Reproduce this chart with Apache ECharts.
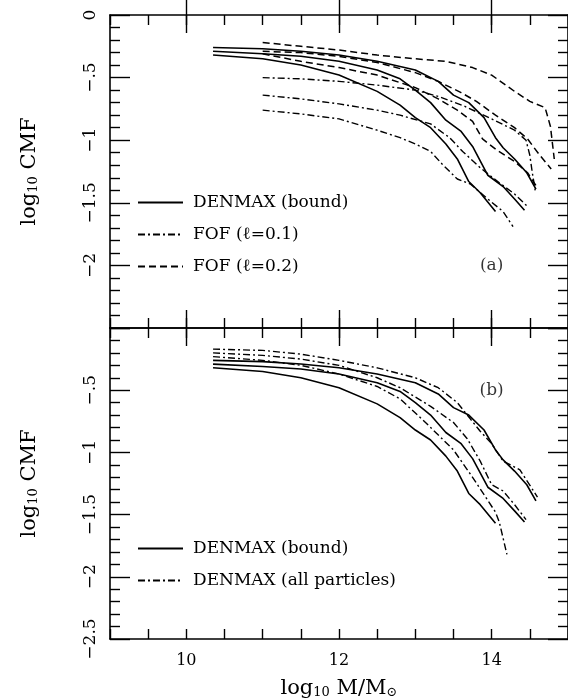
<!DOCTYPE html>
<html>
<head>
<meta charset="utf-8">
<script src="https://cdn.jsdelivr.net/npm/echarts@6/dist/echarts.min.js"></script>
<style>
html,body{margin:0;padding:0;background:#fff;}
#c{width:568px;height:700px;}
</style>
</head>
<body>
<div id="c"></div>
<script>
// ---- data (x = log10 M/Msun, y = log10 CMF) ----
const xMajorTicks = [10, 12, 14];
const yTickValues = [0, -0.5, -1, -1.5, -2, -2.5];

// panel (a)
const denmaxBound1 = [[10.35,-0.26],[11,-0.27],[11.5,-0.29],[12,-0.32],[12.5,-0.37],[13,-0.44],[13.3,-0.53],[13.5,-0.64],[13.7,-0.70],[13.9,-0.82],[14.05,-0.98],[14.15,-1.06],[14.3,-1.15],[14.46,-1.26],[14.58,-1.39]];
const denmaxBound2 = [[10.35,-0.29],[11,-0.31],[11.5,-0.33],[12,-0.37],[12.5,-0.44],[12.8,-0.51],[13.0,-0.60],[13.2,-0.70],[13.4,-0.84],[13.6,-0.93],[13.75,-1.05],[13.95,-1.28],[14.15,-1.37],[14.3,-1.47],[14.43,-1.56]];
const denmaxBound3 = [[10.35,-0.32],[11,-0.35],[11.5,-0.40],[12,-0.48],[12.5,-0.61],[12.8,-0.72],[13.0,-0.82],[13.2,-0.90],[13.4,-1.03],[13.55,-1.15],[13.7,-1.33],[13.85,-1.42],[14.05,-1.57]];

const fof01a = [[11,-0.50],[11.5,-0.51],[12,-0.53],[12.5,-0.56],[13,-0.60],[13.3,-0.65],[13.65,-0.73],[14.0,-0.83],[14.3,-0.92],[14.45,-1.0],[14.5,-1.12],[14.53,-1.25],[14.57,-1.40]];
const fof01b = [[11,-0.64],[11.5,-0.67],[12,-0.71],[12.5,-0.76],[12.8,-0.80],[13.2,-0.87],[13.45,-0.98],[13.62,-1.09],[13.85,-1.22],[14.1,-1.34],[14.3,-1.43],[14.47,-1.53]];
const fof01c = [[11,-0.76],[11.5,-0.79],[12,-0.83],[12.5,-0.92],[12.8,-0.98],[13.0,-1.03],[13.2,-1.09],[13.35,-1.19],[13.55,-1.31],[13.72,-1.35],[13.95,-1.47],[14.15,-1.57],[14.28,-1.69]];

const fof02a = [[11,-0.22],[11.5,-0.25],[12,-0.28],[12.5,-0.32],[13,-0.35],[13.4,-0.37],[13.75,-0.42],[14.0,-0.48],[14.3,-0.61],[14.5,-0.69],[14.7,-0.74],[14.77,-0.89],[14.82,-1.15]];
const fof02b = [[11,-0.29],[11.5,-0.30],[12,-0.33],[12.5,-0.38],[13,-0.46],[13.3,-0.53],[13.6,-0.62],[13.8,-0.69],[14.05,-0.80],[14.3,-0.90],[14.47,-0.99],[14.63,-1.12],[14.78,-1.23]];
const fof02c = [[11,-0.31],[11.5,-0.37],[12,-0.42],[12.5,-0.48],[13,-0.58],[13.3,-0.67],[13.55,-0.76],[13.75,-0.85],[13.88,-0.99],[14.07,-1.08],[14.3,-1.17],[14.47,-1.26],[14.6,-1.38]];

// panel (b)
const denmaxAll1 = [[10.35,-0.17],[11,-0.18],[11.5,-0.21],[12,-0.26],[12.5,-0.32],[13,-0.40],[13.3,-0.48],[13.55,-0.60],[13.72,-0.73],[13.85,-0.83],[14.0,-0.93],[14.15,-1.07],[14.37,-1.14],[14.6,-1.36]];
const denmaxAll2 = [[10.35,-0.20],[11,-0.22],[11.5,-0.25],[12,-0.30],[12.5,-0.40],[12.8,-0.48],[13.2,-0.63],[13.5,-0.76],[13.68,-0.89],[13.85,-1.07],[14.0,-1.26],[14.15,-1.31],[14.3,-1.42],[14.45,-1.54]];
const denmaxAll3 = [[10.35,-0.23],[11,-0.26],[11.5,-0.30],[12,-0.37],[12.5,-0.47],[12.8,-0.57],[13.1,-0.74],[13.5,-0.98],[13.75,-1.2],[14.05,-1.48],[14.1,-1.56],[14.2,-1.82]];

const panelLabels = [{text: '(a)', pos: [14.0, -2.0]}, {text: '(b)', pos: [14.0, -0.5]}];
const nameBound = 'DENMAX (bound)';
const nameFof01 = 'FOF (ℓ=0.1)';
const nameFof02 = 'FOF (ℓ=0.2)';
const nameAll = 'DENMAX (all particles)';

// ---- styles ----
const FONT = 'DejaVu Serif';
const BLACK = '#000';
const solid = {color: BLACK, width: 1.6, type: 'solid'};
const dashed = {color: BLACK, width: 1.5, type: [7, 4]};
const dashDot = {color: BLACK, width: 1.4, type: [7, 3, 2, 3]};

function fmtY(v) {
  if (Math.abs(v) < 1e-9) return '0';
  let s = String(Math.abs(v));
  if (s.startsWith('0')) s = s.substring(1);
  return '\u2212' + s;
}

const richTitle = {
  t: {fontFamily: FONT, fontSize: 21, color: BLACK, verticalAlign: 'bottom', lineHeight: 24},
  s: {fontFamily: FONT, fontSize: 13, color: BLACK, verticalAlign: 'bottom', lineHeight: 15}
};

function xAxes(grid, withLabels) {
  const base = {
    gridIndex: grid, type: 'value', min: 9, max: 15,
    splitLine: {show: false},
    axisLine: {show: true, onZero: false, lineStyle: {color: BLACK, width: 1.6}},
  };
  const list = [];
  ['bottom', 'top'].forEach(function (pos) {
    list.push(Object.assign({}, base, {
      position: pos, interval: 0.5,
      axisTick: {show: true, inside: true, length: 10, lineStyle: {color: BLACK, width: 1.4}},
      axisLabel: {show: false}
    }));
    const major = Object.assign({}, base, {
      position: pos, interval: 0.5,
      axisLine: {show: false},
      axisTick: {show: true, inside: true, length: 18, customValues: xMajorTicks, lineStyle: {color: BLACK, width: 1.4}},
      axisLabel: {show: withLabels && pos === 'bottom', customValues: xMajorTicks, color: BLACK, fontFamily: FONT, fontSize: 16, margin: 14}
    });
    if (withLabels && pos === 'bottom') {
      major.name = '{t|log}{s|10}{t| M/M}{s|\u2299}';
      major.nameLocation = 'middle';
      major.nameGap = 36;
      major.nameTextStyle = {color: BLACK, fontFamily: FONT, rich: richTitle};
    }
    list.push(major);
  });
  return list;
}

function yAxes(grid, hideVal) {
  const base = {
    gridIndex: grid, type: 'value', min: -2.5, max: 0, interval: 0.5,
    splitLine: {show: false},
    axisLine: {show: true, onZero: false, lineStyle: {color: BLACK, width: 1.6}},
    axisTick: {show: true, inside: true, length: 20, lineStyle: {color: BLACK, width: 1.4}},
    minorTick: {show: true, splitNumber: 5, length: 10, lineStyle: {color: BLACK, width: 1.4}},
  };
  const left = Object.assign({}, base, {
    position: 'left',
    axisLabel: {
      show: true, rotate: 90, margin: 11, color: BLACK, fontFamily: FONT, fontSize: 17,
      formatter: function (v) { return Math.abs(v - hideVal) < 1e-9 ? '' : fmtY(v); }
    },
    name: '{t|log}{s|10}{t| CMF}',
    nameLocation: 'middle',
    nameGap: 70,
    nameTextStyle: {color: BLACK, fontFamily: FONT, rich: richTitle}
  });
  const right = Object.assign({}, base, {position: 'right', axisLabel: {show: false}});
  return [left, right];
}

function lineSeries(name, data, style, xi, yi) {
  return {
    type: 'line', name: name, data: data, xAxisIndex: xi, yAxisIndex: yi,
    symbol: 'none', showSymbol: false, smooth: false, silent: true,
    itemStyle: {color: BLACK},
    lineStyle: style, z: 3
  };
}

const series = [
  lineSeries(nameBound, denmaxBound1, solid, 0, 0),
  lineSeries(nameBound, denmaxBound2, solid, 0, 0),
  lineSeries(nameBound, denmaxBound3, solid, 0, 0),
  lineSeries(nameFof01, fof01a, dashDot, 0, 0),
  lineSeries(nameFof01, fof01b, dashDot, 0, 0),
  lineSeries(nameFof01, fof01c, dashDot, 0, 0),
  lineSeries(nameFof02, fof02a, dashed, 0, 0),
  lineSeries(nameFof02, fof02b, dashed, 0, 0),
  lineSeries(nameFof02, fof02c, dashed, 0, 0),
  lineSeries(nameBound, denmaxBound1, solid, 4, 2),
  lineSeries(nameBound, denmaxBound2, solid, 4, 2),
  lineSeries(nameBound, denmaxBound3, solid, 4, 2),
  lineSeries(nameAll, denmaxAll1, dashDot, 4, 2),
  lineSeries(nameAll, denmaxAll2, dashDot, 4, 2),
  lineSeries(nameAll, denmaxAll3, dashDot, 4, 2)
];

panelLabels.forEach(function (p, i) {
  series.push({
    type: 'scatter', xAxisIndex: i === 0 ? 0 : 4, yAxisIndex: i === 0 ? 0 : 2,
    data: [p.pos], symbolSize: 1, itemStyle: {color: 'rgba(0,0,0,0)'}, silent: true,
    label: {show: true, position: 'inside', formatter: p.text, color: BLACK, fontFamily: FONT, fontSize: 17}
  });
});

const legendText = {color: BLACK, fontFamily: FONT, fontSize: 17, padding: [0, 0, 0, 5]};
const legendCommon = {
  orient: 'vertical', left: 137, padding: 0,
  itemWidth: 45, itemHeight: 14, selectedMode: false,
  itemStyle: {opacity: 0, borderWidth: 0},
  textStyle: legendText
};

const option = {
  animation: false,
  backgroundColor: '#fff',
  grid: [
    {left: 110, right: 0, top: 15, height: 313},
    {left: 110, right: 0, top: 328, height: 315}
  ],
  xAxis: xAxes(0, false).concat(xAxes(1, true)),
  yAxis: yAxes(0, -2.5).concat(yAxes(1, 0)),
  legend: [
    Object.assign({}, legendCommon, {data: [nameBound, nameFof01, nameFof02], top: 194, itemGap: 15}),
    Object.assign({}, legendCommon, {data: [nameBound, nameAll], top: 540, itemGap: 15})
  ],
  series: series
};

const chart = echarts.init(document.getElementById('c'), null, {renderer: 'canvas'});
chart.setOption(option);
</script>
</body>
</html>
